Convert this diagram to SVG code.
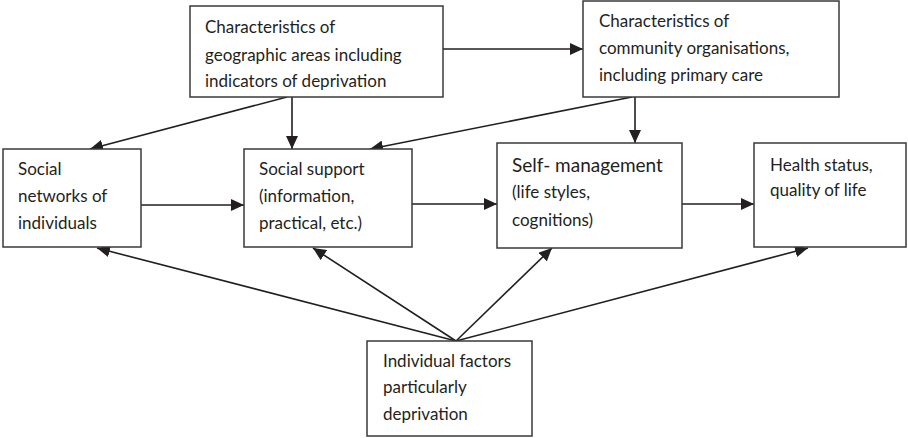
<svg xmlns="http://www.w3.org/2000/svg" width="908" height="438" viewBox="0 0 908 438">
<defs>
<style>
.box{fill:#fff;stroke:#3a3a3a;stroke-width:1.5}
.t{font-family:Lato,"Liberation Sans",sans-serif;font-size:17px;fill:#231f20}
.big{font-size:19px}
.c{stroke:#231f20;stroke-width:1.6;fill:none;marker-end:url(#ah)}
</style>
<marker id="ah" markerUnits="userSpaceOnUse" markerWidth="14" markerHeight="12" refX="13" refY="6" orient="auto">
<path d="M0,0 L13,6 L0,12 Z" fill="#231f20"/>
</marker>
</defs>
<rect width="908" height="438" fill="#fff"/>
<g id="connectors">
<line class="c" x1="443" y1="49" x2="583" y2="49"/>
<line class="c" x1="287" y1="97" x2="90" y2="149"/>
<line class="c" x1="292" y1="97" x2="292" y2="149"/>
<line class="c" x1="632" y1="97" x2="370" y2="149"/>
<line class="c" x1="635" y1="97" x2="635" y2="143"/>
<line class="c" x1="141" y1="205" x2="244" y2="205"/>
<line class="c" x1="412" y1="204" x2="497" y2="204"/>
<line class="c" x1="682" y1="204" x2="754" y2="204"/>
<line class="c" x1="456" y1="341" x2="97" y2="248"/>
<line class="c" x1="456" y1="341" x2="313" y2="248"/>
<line class="c" x1="456" y1="341" x2="552" y2="248"/>
<line class="c" x1="456" y1="341" x2="808" y2="248"/>
</g>
<g id="geographic">
<rect class="box" x="190" y="6" width="253" height="91"/>
<text class="t" x="205"><tspan x="205" y="33">Characteristics of</tspan><tspan x="205" y="61">geographic areas including</tspan><tspan x="205" y="87">indicators of deprivation</tspan></text>
</g>
<g id="community">
<rect class="box" x="583" y="1" width="256" height="96"/>
<text class="t"><tspan x="599" y="27">Characteristics of</tspan><tspan x="599" y="54">community organisations,</tspan><tspan x="599" y="81">including primary care</tspan></text>
</g>
<g id="networks">
<rect class="box" x="3" y="149" width="138" height="98"/>
<text class="t"><tspan x="18" y="175">Social</tspan><tspan x="18" y="202">networks of</tspan><tspan x="18" y="229">individuals</tspan></text>
</g>
<g id="support">
<rect class="box" x="244" y="149" width="168" height="98"/>
<text class="t"><tspan x="259" y="175">Social support</tspan><tspan x="259" y="202">(information,</tspan><tspan x="259" y="229">practical, etc.)</tspan></text>
</g>
<g id="selfmanagement">
<rect class="box" x="497" y="143" width="185" height="105"/>
<text class="t"><tspan class="big" x="512" y="172">Self- management</tspan><tspan x="512" y="198">(life styles,</tspan><tspan x="512" y="226">cognitions)</tspan></text>
</g>
<g id="health">
<rect class="box" x="754" y="143" width="152" height="104"/>
<text class="t"><tspan x="770" y="171">Health status,</tspan><tspan x="770" y="196">quality of life</tspan></text>
</g>
<g id="individual">
<rect class="box" x="367" y="341" width="165" height="95"/>
<text class="t"><tspan x="383" y="367">Individual factors</tspan><tspan x="383" y="393">particularly</tspan><tspan x="383" y="420">deprivation</tspan></text>
</g>
</svg>
